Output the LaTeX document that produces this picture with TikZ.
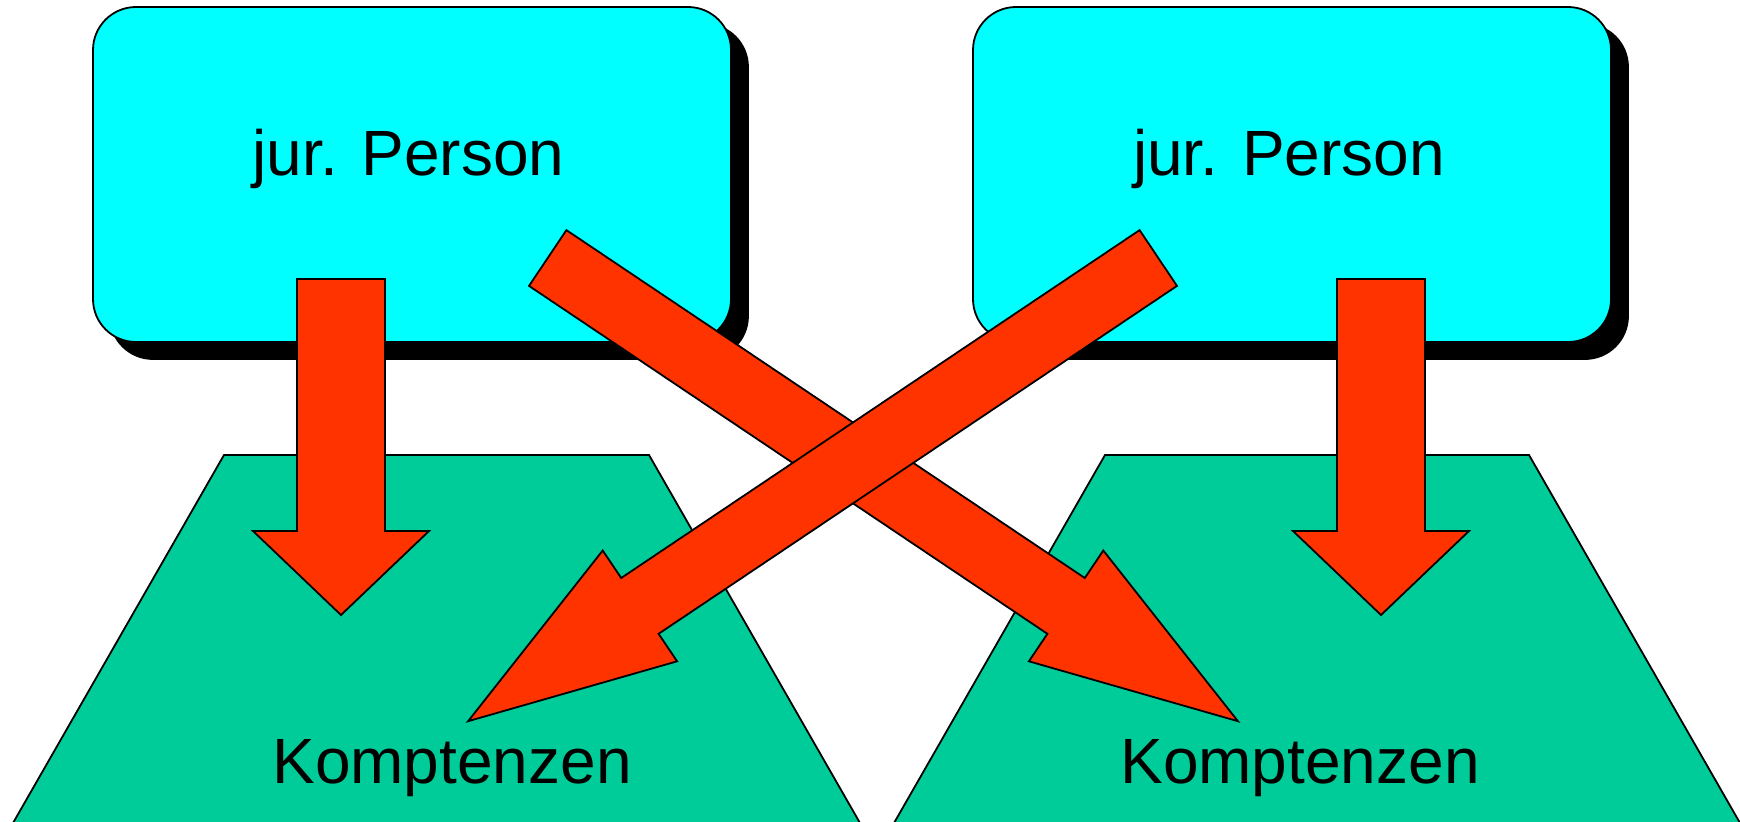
\documentclass[tikz,border=0pt]{standalone}
\usepackage{fontspec}
\setmainfont{Liberation Sans}
\definecolor{boxcyan}{RGB}{0,255,255}
\definecolor{trapgreen}{RGB}{0,204,153}
\definecolor{arrowred}{RGB}{255,51,0}
\begin{document}
\begin{tikzpicture}[x=0.5pt,y=-0.5pt,
  outline/.style={draw=black,line width=0.9pt,line join=miter},
  shadowbox/.style={fill=black,draw=black,line width=0.9pt,rounded corners=21.5pt},
  personbox/.style={outline,fill=boxcyan,rounded corners=21.5pt},
  trap/.style={outline,fill=trapgreen},
  bigarrow/.style={outline,fill=arrowred},
  label/.style={anchor=base,inner sep=0pt,font=\fontsize{32pt}{38pt}\selectfont}]
\useasboundingbox (0,0) rectangle (1740,821);
% boxes
\draw[shadowbox] (110,24) rectangle (748,359);
\draw[personbox] (93,7) rectangle (731,342);
\node[label] (p1) at (408.5,175) {jur. Person};
\draw[shadowbox] (990,24) rectangle (1628,359);
\draw[personbox] (973,7) rectangle (1611,342);
\node[label] (p2) at (1289,175) {jur. Person};
% trapezoids
\draw[trap] (224,455) -- (649,455) -- (860,823) -- (13,823) -- cycle;
\node[label] (k1) at (452,783) {Komptenzen};
\draw[trap] (1105,455) -- (1529,455) -- (1740,823) -- (894,823) -- cycle;
\node[label] (k2) at (1300,783) {Komptenzen};
% vertical arrows
\draw[bigarrow] (297,279) -- (385,279) -- (385,531) -- (429,531) -- (341,615) -- (253,531) -- (297,531) -- cycle;
\draw[bigarrow] (1337,279) -- (1425,279) -- (1425,531) -- (1469,531) -- (1381,615) -- (1293,531) -- (1337,531) -- cycle;
% diagonal arrow A (left box to right Kompetenzen)
\draw[bigarrow] (566.4,230.1) -- (1084.8,578) -- (1103.3,550.5) -- (1237.9,721.2) -- (1028.9,661.3) -- (1047.4,633.8) -- (529,285.9) -- cycle;
% diagonal arrow B (right box to left Kompetenzen)
\draw[bigarrow] (1139.6,230.1) -- (621.2,578) -- (602.7,550.5) -- (468.1,721.2) -- (677.1,661.3) -- (658.6,633.8) -- (1177,285.9) -- cycle;
\end{tikzpicture}
\end{document}
